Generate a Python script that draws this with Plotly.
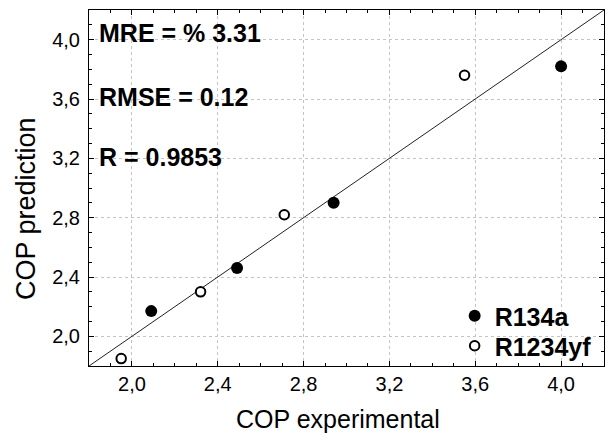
import plotly.graph_objects as go

# Data
r134a_exp = [2.09, 2.49, 2.94, 4.00]
r134a_pred = [2.17, 2.46, 2.90, 3.82]
r1234yf_exp = [1.95, 2.32, 2.71, 3.55]
r1234yf_pred = [1.85, 2.30, 2.82, 3.76]
diag = [1.8, 4.2]
tick_vals = [2.0, 2.4, 2.8, 3.2, 3.6, 4.0]
stats = ["MRE = % 3.31", "RMSE = 0.12", "R = 0.9853"]
stat_y = [0.934, 0.756, 0.588]

FONT = "Liberation Sans, Arial, sans-serif"

fig = go.Figure()
fig.add_trace(go.Scatter(x=diag, y=diag, mode="lines",
                         line=dict(color="#222222", width=1),
                         showlegend=False, hoverinfo="skip"))
fig.add_trace(go.Scatter(x=r134a_exp, y=r134a_pred, mode="markers", name="R134a",
                         legend="legend",
                         marker=dict(symbol="circle", size=12, color="black",
                                     line=dict(width=0))))
fig.add_trace(go.Scatter(x=r1234yf_exp, y=r1234yf_pred, mode="markers", name="R1234yf",
                         legend="legend2",
                         marker=dict(symbol="circle", size=9.5, color="white",
                                     line=dict(color="black", width=2))))

axis_common = dict(
    range=[1.8, 4.2], tickvals=tick_vals, tickformat=".1f",
    showline=True, linecolor="black", linewidth=1, mirror="ticks",
    ticks="inside", ticklen=5, tickcolor="black", tickwidth=1,
    minor=dict(ticks="inside", dtick=0.1, tick0=0, ticklen=3, tickcolor="black",
               showgrid=False),
    showgrid=True, gridcolor="#c4c4c4", gridwidth=1, griddash="dot",
    zeroline=False, tickfont=dict(family=FONT, size=20, color="black"),
    automargin=False,
)

fig.update_xaxes(**axis_common, ticklabelstandoff=0)
fig.update_yaxes(**axis_common, ticklabelstandoff=4)

annotations = []
for txt, yy in zip(stats, stat_y):
    annotations.append(dict(text="<b>%s</b>" % txt, xref="paper", yref="paper",
                            x=0.0155, y=yy, xanchor="left", yanchor="middle",
                            showarrow=False,
                            font=dict(family=FONT, size=25, color="black")))
annotations.append(dict(text="COP prediction", xref="paper", yref="paper",
                        x=-0.121, y=0.443, xanchor="center", yanchor="middle",
                        textangle=-90, showarrow=False,
                        font=dict(family=FONT, size=27, color="black")))
annotations.append(dict(text="COP experimental", xref="paper", yref="paper",
                        x=0.4835, y=-0.149, xanchor="center", yanchor="middle",
                        showarrow=False,
                        font=dict(family=FONT, size=25, color="black")))

legend_common = dict(xanchor="left", yanchor="top",
                     bgcolor="rgba(255,255,255,0)", borderwidth=0,
                     font=dict(family=FONT, size=25, color="black", weight="bold"),
                     tracegroupgap=0, itemsizing="trace")

fig.update_layout(
    width=610, height=435,
    margin=dict(l=89, r=6, t=10, b=69),
    paper_bgcolor="white", plot_bgcolor="white",
    separators=",.",
    annotations=annotations,
    legend=dict(x=0.710, y=0.205, **legend_common),
    legend2=dict(x=0.710, y=0.1207, **legend_common),
)

fig.write_html("out.html", config={"displayModeBar": False},
               post_script="document.body.style.margin='0';document.body.style.overflow='hidden';")
